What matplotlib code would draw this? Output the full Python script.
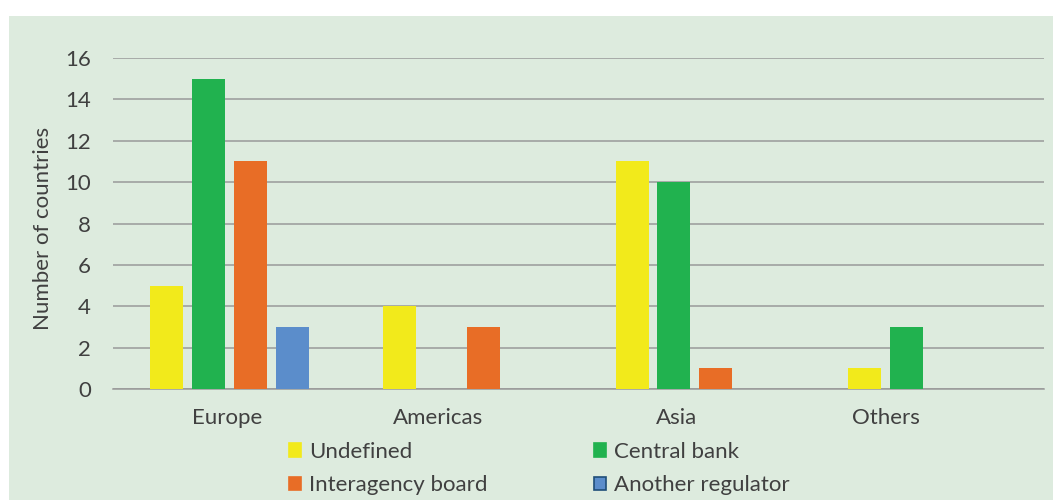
import matplotlib.pyplot as plt
from matplotlib.patches import Patch, Rectangle
import numpy as np

# data
categories = ['Europe', 'Americas', 'Asia', 'Others']
undefined = [5, 4, 11, 1]
central_bank = [15, 0, 10, 3]
interagency = [11, 3, 1, 0]
another_reg = [3, 0, 0, 0]

series = [('Undefined', undefined, '#F2EA1B'),
          ('Central bank', central_bank, '#21B24F'),
          ('Interagency board', interagency, '#E86D26'),
          ('Another regulator', another_reg, '#5B8DCB')]

# category labels in the original sit a bit left of the group centres
label_shift = [-0.01, -0.105, -0.08, -0.18]

plt.rcParams['font.family'] = ['Lato', 'DejaVu Sans']
txt = '#404040'
bg = '#DDEBDE'
fs = 16

fig = plt.figure(figsize=(10.53, 5), dpi=100, facecolor='white')
fig.patches.append(Rectangle((9 / 1053, 0), 1, 1 - 16 / 500, transform=fig.transFigure,
                             facecolor=bg, edgecolor='none', zorder=-10))

ax = fig.add_axes([113 / 1053, 111 / 500, 931 / 1053, 331 / 500])
ax.patch.set_alpha(0)

x = np.arange(len(categories))
step = 0.18
width = 0.142
for k, (name, vals, col) in enumerate(series):
    ax.bar(x + (k - 1.5) * step, vals, width=width, color=col, zorder=3)

ax.set_xlim(-0.5, 3.5)
ax.set_ylim(0, 16)
ax.set_yticks(np.arange(0, 17, 2))
ax.grid(axis='y', color='#999999', linewidth=1.1, zorder=0)
ax.set_xticks(x + np.array(label_shift))
ax.set_xticklabels(categories)
ax.tick_params(axis='both', length=0, labelsize=fs, colors=txt)
ax.tick_params(axis='y', pad=16)
ax.tick_params(axis='x', pad=14)
for s in ['top', 'right', 'left']:
    ax.spines[s].set_visible(False)
ax.spines['bottom'].set_color('#999999')
ax.spines['bottom'].set_linewidth(1.1)

ax.set_ylabel('Number of countries', fontsize=fs, color=txt)
ax.yaxis.set_label_coords(-0.064, 0.485)

# legend filled row by row: Undefined | Central bank / Interagency | Another
order = [0, 2, 1, 3]
handles = []
for i in order:
    name, vals, col = series[i]
    ec = '#1F4E79' if name == 'Another regulator' else col
    handles.append(Patch(facecolor=col, edgecolor=ec, linewidth=1.2, label=name))
leg = fig.legend(handles=handles, ncol=2, loc='upper left',
                 bbox_to_anchor=(289 / 1053, 1 - 442 / 500), frameon=False,
                 fontsize=fs, labelcolor=txt, handlelength=0.55, handleheight=0.55,
                 handletextpad=0.35, columnspacing=4.8, labelspacing=0.6, borderpad=0,
                 borderaxespad=0)

fig.savefig('out.png', dpi=100, facecolor='white')
